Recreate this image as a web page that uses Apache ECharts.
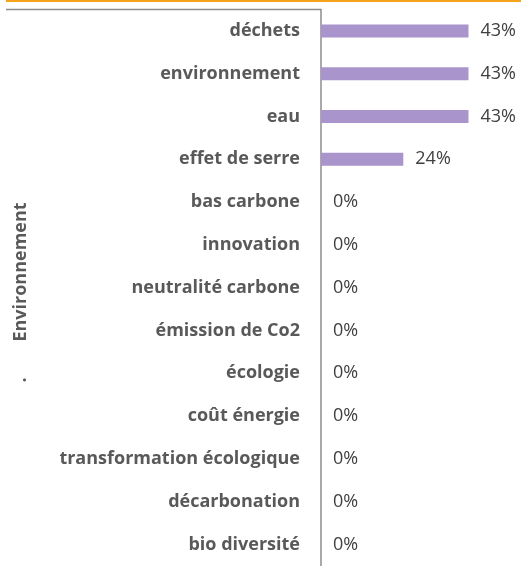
<!DOCTYPE html>
<html>
<head>
<meta charset="utf-8">
<script src="https://cdn.jsdelivr.net/npm/echarts@6/dist/echarts.min.js"></script>
<style>
  html, body { margin: 0; padding: 0; background: #fff; }
  #chart { width: 521px; height: 566px; }
</style>
</head>
<body>
<div id="chart"></div>
<script>
// Keywords and their share (percent)
const categories = [
  'déchets', 'environnement', 'eau', 'effet de serre', 'bas carbone',
  'innovation', 'neutralité carbone', 'émission de Co2', 'écologie',
  'coût énergie', 'transformation écologique', 'décarbonation', 'bio diversité'
];
const shares = [43, 43, 43, 24, 0, 0, 0, 0, 0, 0, 0, 0, 0];
const groupTitle = 'Environnement';
const groupSubTitle = '.';

const labelFont = '"Open Sans", "Liberation Sans", sans-serif';

const chart = echarts.init(document.getElementById('chart'), null, { renderer: 'canvas' });
chart.setOption({
  animation: false,
  backgroundColor: '#ffffff',
  grid: { left: 321, right: 28.5, top: 9.5, height: 559, containLabel: false },
  xAxis: {
    type: 'value', min: 0, max: 50, show: false
  },
  yAxis: {
    type: 'category',
    data: categories,
    inverse: true,
    axisLine: { show: true, lineStyle: { color: '#8c8c8c', width: 1.5 } },
    axisTick: { show: false },
    axisLabel: {
      margin: 21,
      color: '#595959',
      fontWeight: 'bold',
      fontSize: 18,
      fontFamily: labelFont
    }
  },
  series: [{
    type: 'bar',
    data: shares,
    barWidth: 13,
    itemStyle: { color: '#a994cc' },
    label: {
      show: true,
      position: 'right',
      distance: 12,
      formatter: p => p.value + '%',
      color: '#404040',
      fontSize: 18,
      fontFamily: labelFont
    }
  }],
  graphic: [
    { type: 'line', shape: { x1: 6, y1: 1, x2: 521, y2: 1 },
      style: { stroke: '#f5a31a', lineWidth: 2 } },
    { type: 'line', shape: { x1: 6, y1: 9.5, x2: 321, y2: 9.5 },
      style: { stroke: '#8c8c8c', lineWidth: 1.5 } },
    { type: 'text', x: 21, y: 272, rotation: Math.PI / 2,
      style: { text: groupTitle, fill: '#595959', font: 'bold 18px ' + labelFont,
               textAlign: 'center', textVerticalAlign: 'middle' } },
    { type: 'text', x: 21, y: 380, rotation: Math.PI / 2,
      style: { text: groupSubTitle, fill: '#595959', font: 'bold 18px ' + labelFont,
               textAlign: 'center', textVerticalAlign: 'middle' } }
  ]
});
</script>
</body>
</html>
